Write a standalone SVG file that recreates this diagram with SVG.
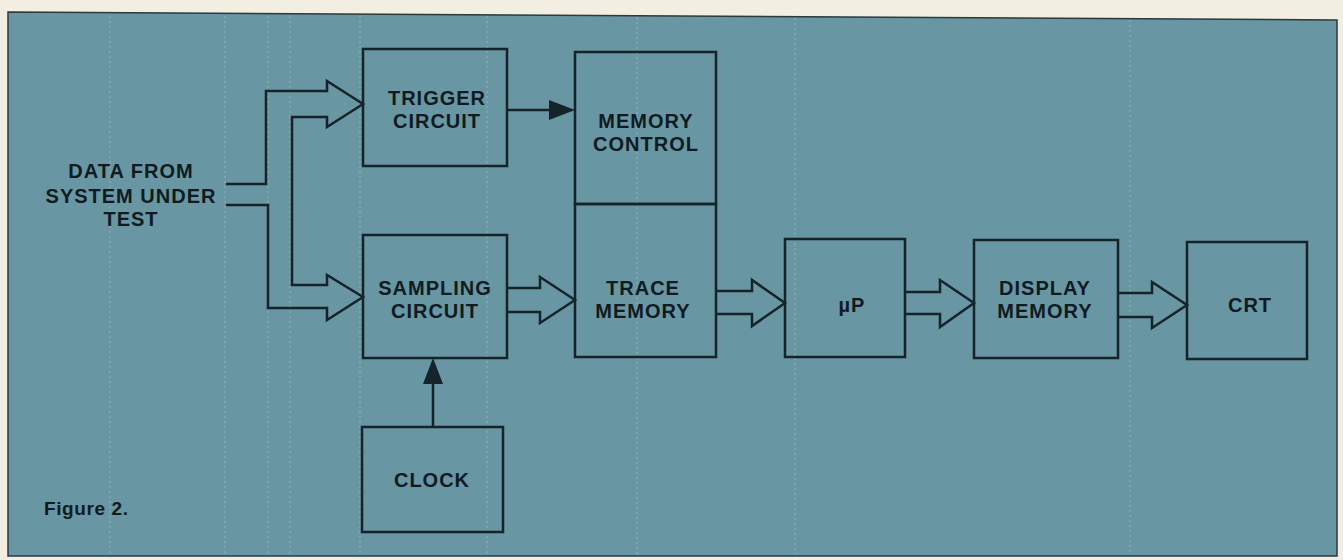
<svg xmlns="http://www.w3.org/2000/svg" width="1343" height="560" viewBox="0 0 1343 560">
<style>
.ln{fill:none;stroke:#15232a;stroke-width:2.5;stroke-linejoin:miter}
.box{fill:none;stroke:#15232a;stroke-width:2.5}
.t{font-family:"Liberation Sans",Arial,sans-serif;font-weight:bold;font-size:20px;letter-spacing:1px;fill:#0f1b20;text-anchor:middle}
.tex{stroke:#a9c3c8;stroke-width:1.5;stroke-dasharray:2 3;opacity:0.45}
</style>
<rect x="0" y="0" width="1343" height="560" fill="#f2eee1"/>
<polygon points="8,12 1337,20 1337,556 8,556" fill="#6896a3" stroke="#2a3a3e" stroke-width="1.5"/>
<g id="texture">
<line class="tex" x1="110" y1="16" x2="110" y2="554"/>
<line class="tex" x1="225" y1="16" x2="225" y2="554"/>
<line class="tex" x1="268" y1="16" x2="268" y2="554"/>
<line class="tex" x1="290" y1="16" x2="290" y2="554"/>
<line class="tex" x1="360" y1="16" x2="360" y2="554"/>
<line class="tex" x1="487" y1="16" x2="487" y2="554"/>
<line class="tex" x1="637" y1="17" x2="637" y2="554"/>
<line class="tex" x1="795" y1="18" x2="795" y2="554"/>
<line class="tex" x1="1130" y1="20" x2="1130" y2="554"/>
</g>
<g id="connectors">
<path class="ln" d="M226,184 H266 V91 H327 V81 L363,104 L327,127 V117 H292 V285 H327 V275 L363,297 L327,320 V308 H268 V205 H226"/>
<path class="ln" d="M507,288 H540 V277 L575,300 L540,323 V312 H507"/>
<path class="ln" d="M716,291 H752 V280 L785,303 L752,326 V314 H716"/>
<path class="ln" d="M905,292 H940 V280 L974,303 L940,327 V314 H905"/>
<path class="ln" d="M1118,293 H1152 V282 L1187,305 L1152,328 V317 H1118"/>
<line class="ln" x1="507" y1="110" x2="552" y2="110"/>
<path d="M549,100 L575,110 L549,120 Z" fill="#15232a"/>
<line class="ln" x1="433" y1="427" x2="433" y2="382"/>
<path d="M423,384 L433,358 L443,384 Z" fill="#15232a"/>
</g>
<g id="input-label">
<text class="t" x="131" y="178">DATA FROM</text>
<text class="t" x="131" y="203">SYSTEM UNDER</text>
<text class="t" x="131" y="226">TEST</text>
</g>
<g id="trigger">
<rect class="box" x="363" y="49" width="144" height="117"/>
<text class="t" x="437" y="105">TRIGGER</text>
<text class="t" x="437" y="128">CIRCUIT</text>
</g>
<g id="sampling">
<rect class="box" x="363" y="235" width="144" height="123"/>
<text class="t" x="435" y="295">SAMPLING</text>
<text class="t" x="435" y="318">CIRCUIT</text>
</g>
<g id="memory-control">
<rect class="box" x="575" y="52" width="141" height="152"/>
<text class="t" x="646" y="128">MEMORY</text>
<text class="t" x="646" y="151">CONTROL</text>
</g>
<g id="trace-memory">
<rect class="box" x="575" y="204" width="141" height="153"/>
<text class="t" x="643" y="295">TRACE</text>
<text class="t" x="643" y="318">MEMORY</text>
</g>
<g id="up">
<rect class="box" x="785" y="239" width="120" height="118"/>
<text class="t" x="852" y="312">µP</text>
</g>
<g id="display-memory">
<rect class="box" x="974" y="240" width="144" height="118"/>
<text class="t" x="1045" y="295">DISPLAY</text>
<text class="t" x="1045" y="318">MEMORY</text>
</g>
<g id="crt">
<rect class="box" x="1187" y="242" width="120" height="117"/>
<text class="t" x="1250" y="312">CRT</text>
</g>
<g id="clock">
<rect class="box" x="362" y="427" width="141" height="105"/>
<text class="t" x="432" y="487">CLOCK</text>
</g>
<text class="t" x="44" y="515" style="text-anchor:start;font-size:19px;letter-spacing:0.6px">Figure 2.</text>
</svg>
